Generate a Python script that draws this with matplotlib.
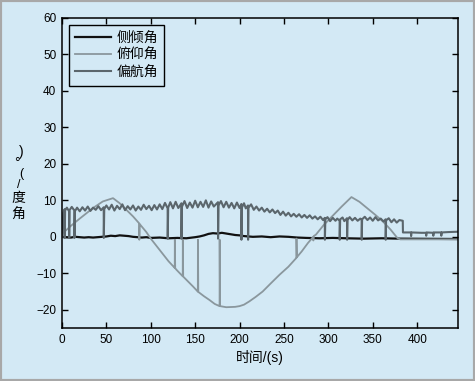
import matplotlib
matplotlib.use('Agg')
import matplotlib.pyplot as plt
from matplotlib.patches import Rectangle

plt.rcParams['font.family'] = ['Liberation Sans', 'Noto Sans CJK SC', 'DejaVu Sans']

# 数据 (时间 s, 角度 °)
roll_pts = [(0, 0), (5, -0.1), (10, -0.2), (15, 0), (20, -0.1), (25, -0.2), (30, -0.1), (35, -0.2),
            (40, -0.1), (45, 0), (50, 0.1), (55, 0.3), (60, 0.2), (65, 0.4), (70, 0.3), (75, 0.2),
            (80, 0), (85, -0.1), (90, -0.2), (95, -0.1), (100, -0.3), (110, -0.2), (120, -0.4),
            (130, -0.3), (140, -0.4), (150, -0.1), (155, 0.1), (160, 0.4), (165, 0.8), (170, 1.0),
            (175, 0.9), (180, 1.1), (185, 0.9), (190, 0.7), (195, 0.5), (200, 0.4), (205, 0.2),
            (215, 0), (225, 0.1), (235, -0.1), (245, 0.1), (255, 0), (265, -0.2), (275, -0.3),
            (290, -0.4), (305, -0.3), (320, -0.4), (340, -0.5), (360, -0.4), (380, -0.5), (446, -0.6)]

pitch_pts = [(0, 0), (1, 1), (10, 3), (20, 5), (35, 7.9), (46, 9.7), (57.5, 10.6), (65, 9.2),
             (72.5, 7.4), (80, 5.6), (86.9, 3.7), (87, 3.7), (87.1, -0.8), (87.5, 3.5), (95, 1.3),
             (100, -0.5), (110, -3.6), (120, -6.7), (126.9, -8.5), (127, -8.5), (127.1, -0.8),
             (127.5, -8.6), (128.8, -9.0), (135.9, -10.8), (136, -10.8), (136.1, -0.8),
             (136.5, -10.9), (147.5, -13.6), (152.9, -15.0), (153, -15.0), (153.1, -0.8),
             (153.5, -15.1), (160, -16.3), (166, -17.3), (172, -18.4), (177.4, -19.0),
             (177.5, -19.0), (177.6, -0.8), (178, -19.0), (185, -19.3), (195, -19.2), (200, -19),
             (205, -18.6), (211, -17.7), (218, -16.5), (226, -15), (235, -12.8), (245, -10.4),
             (255, -8.2), (263.9, -5.8), (264, -5.8), (264.1, -0.5), (264.5, -5.6), (270, -4),
             (277, -1.7), (283, 0), (283.1, -1), (283.5, 0.2), (286, 0.6), (295, 3.3), (305, 5.8),
             (315, 8.3), (326, 10.9), (335, 9.6), (345, 7.6), (353, 6), (361.5, 4.2), (370, 2.0),
             (378, -0.4), (381, -0.7), (446, -0.7)]

yaw_pts = [(0, 0), (1.5, 6.5), (2.9, 7.6), (3, 7.6), (3.1, -0.3), (3.5, 7.2), (5.5, 8.0), (7.9, 7.0),
           (8, 7.0), (8.1, -0.3), (8.5, 7.3), (11, 8.2), (13.9, 7.2), (14, 7.2), (14.1, -0.3),
           (14.5, 7.0), (17, 8.0), (20, 7.0), (23, 8.1), (26, 7.2), (29, 8.3), (32, 7.1), (35, 8.0),
           (38, 7.4), (41, 8.4), (44, 7.3), (46.9, 8.1), (47, 8.1), (47.1, -0.3), (47.6, 7.6),
           (50, 8.6), (53, 7.5), (56, 8.8), (59, 7.2), (62, 8.5), (65, 7.6), (68, 8.9), (71, 7.3),
           (74, 8.4), (77, 7.5), (80, 8.6), (83, 7.2), (86, 8.3), (89, 7.4), (92, 8.8), (95, 7.6),
           (98, 8.5), (101, 7.3), (104, 8.7), (107, 7.5), (110, 8.9), (113, 7.6), (116, 9.3),
           (118.9, 7.8), (119, 7.8), (119.1, -0.5), (119.6, 8.0), (122, 9.5), (125, 7.8),
           (128, 9.6), (131, 7.9), (134.4, 9.2), (134.5, 9.2), (134.6, -0.5), (135, 8.2),
           (138, 9.8), (141, 7.9), (144, 9.4), (147, 8.0), (150, 9.9), (153, 8.1), (156, 9.6),
           (159, 8.2), (162, 10.0), (165, 8.0), (168, 9.7), (171, 8.3), (175.6, 9.5), (175.7, 9.5),
           (175.8, -0.5), (176.3, 8.6), (179, 9.8), (182, 8.1), (185, 9.6), (188, 8.0), (191, 9.3),
           (194, 7.8), (197, 9.4), (200, 7.9), (201.9, 9.0), (202, 9.0), (202.1, -0.8),
           (202.6, 8.0), (205, 9.2), (207, 7.8), (209.4, 8.6), (209.5, 8.6), (209.6, -0.8),
           (210, 8.0), (213, 8.9), (216, 7.4), (219, 8.3), (222, 7.2), (225, 8.0), (228, 6.9),
           (231, 7.7), (234, 6.7), (237, 7.5), (240, 6.5), (243, 7.2), (246, 6.0), (249, 6.9),
           (252, 5.8), (255, 6.6), (258, 5.6), (261, 6.3), (264, 5.5), (267, 6.2), (270, 5.3),
           (273, 6.0), (276, 5.2), (279, 5.9), (282, 5.0), (285, 5.6), (288, 4.8), (291, 5.5),
           (294, 4.6), (295.9, 5.2), (296, 5.2), (296.1, -0.8), (296.6, 4.8), (299, 5.4),
           (302, 4.3), (305, 5.2), (308, 4.4), (310, 5.0), (312.6, 4.4), (312.7, 4.4),
           (312.8, -0.8), (313.3, 4.8), (316, 5.3), (318, 4.3), (320.9, 5.1), (321, 5.1),
           (321.1, -0.8), (321.6, 4.6), (324, 5.4), (327, 4.5), (330, 5.2), (333, 4.4), (336, 5.0),
           (337.5, 4.6), (337.6, -0.8), (338, 4.8), (341, 5.5), (344, 4.6), (347, 5.3), (350, 4.4),
           (353, 5.4), (356, 4.5), (359, 5.0), (362, 4.2), (364.4, 4.8), (364.5, 4.8),
           (364.6, -0.8), (365, 4.5), (368, 5.1), (371, 4.0), (374, 4.8), (377, 3.9), (380, 4.6),
           (383.8, 4.4), (384, 1.2), (393, 1.2), (393.2, 0.2), (393.6, 1.2), (405, 1.1),
           (410, 1.1), (410.2, 0.3), (410.6, 1.2), (418, 1.1), (418.2, 0.3), (418.6, 1.2),
           (427, 1.2), (427.2, 0.3), (427.6, 1.2), (435, 1.3), (446, 1.4)]

labels = ['侧倾角', '俯仰角', '偏航角']
colors = ['#111111', '#8a979d', '#5b666c']
bg = '#d3e9f5'

fig = plt.figure(figsize=(4.75, 3.81), dpi=100, facecolor=bg)
fig.patches.append(Rectangle((0, 0), 1, 1, transform=fig.transFigure, fill=False,
                             edgecolor='#a8a8a8', linewidth=3))
ax = fig.add_axes([0.1305, 0.1391, 0.8337, 0.8137], facecolor=bg)

for pts, c, lab, lw in zip([roll_pts, pitch_pts, yaw_pts], colors, labels, [1.6, 1.3, 1.5]):
    ax.plot([p[0] for p in pts], [p[1] for p in pts], color=c, lw=lw, label=lab)

ax.set_xlim(0, 446)
ax.set_ylim(-25, 60)
ax.set_xticks(range(0, 401, 50))
ax.set_yticks(range(-20, 61, 10))
ax.tick_params(direction='in', length=4, width=1, labelsize=8.5, top=True, right=True, pad=4)
for s in ax.spines.values():
    s.set_linewidth(1.1)

ax.set_xlabel('时间/(s)', fontsize=10, labelpad=3)

# 纵轴标签 "角度/(°)": 竖排, 自下而上
def px(x, y):
    return x / 475, 1 - y / 381

fig.text(*px(18, 215), '角', fontsize=10, ha='center', va='center')
fig.text(*px(18, 198), '度', fontsize=10, ha='center', va='center')
fig.text(*px(19, 185), '/', fontsize=9, ha='center', va='center')
fig.text(*px(21, 174), '(', fontsize=9, ha='center', va='center')
fig.text(*px(17, 163), '°', fontsize=10, ha='center', va='center')
fig.text(*px(21, 152), ')', fontsize=10, ha='center', va='center')

leg = ax.legend(loc='upper left', fontsize=10, frameon=True, fancybox=False, edgecolor='black',
                facecolor=bg, framealpha=1, handlelength=2.6, labelspacing=0.22,
                borderaxespad=0.5, handletextpad=0.35, borderpad=0.45)
leg.get_frame().set_linewidth(1.0)

plt.savefig('out.png', dpi=100, facecolor=bg)
